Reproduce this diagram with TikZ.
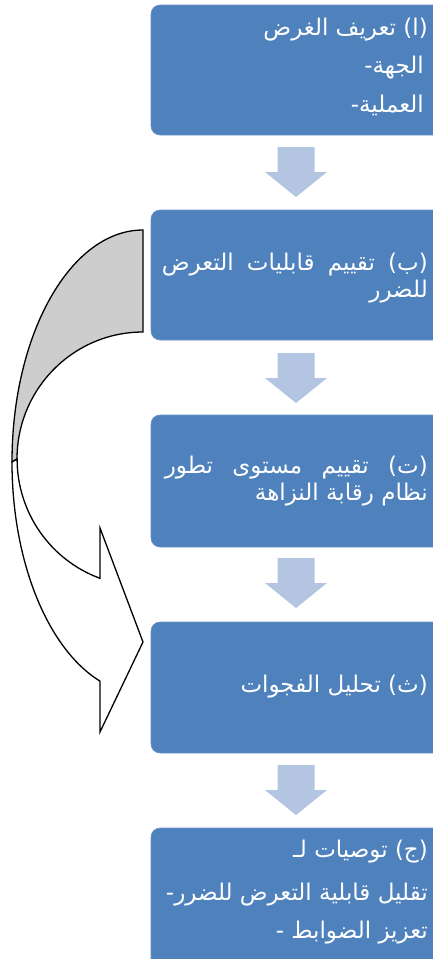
\documentclass[tikz,border=0pt]{standalone}
\usepackage{fontspec}
\TeXXeTstate=1
\newfontfamily\arabicfont[Script=Arabic]{DejaVu Sans}
\definecolor{boxblue}{HTML}{4F81BD}
\definecolor{arrowblue}{RGB}{180,197,225}
\definecolor{backgray}{RGB}{205,205,205}
\tikzset{
  stepbox/.style={rectangle, rounded corners=9pt, fill=boxblue, draw=boxblue!85!white, line width=0.6pt, inner sep=0pt, minimum width=294pt},
  txt/.style={anchor=base east, inner sep=0pt, text=white, font=\arabicfont\fontsize{23}{27}\selectfont},
  downarrow/.style={fill=arrowblue},
  bandline/.style={draw=black, line width=1.3pt, line join=miter}
}
\newcommand\blockdown[1]{%
  \fill[downarrow] (#1) ++(-18.5,0) -- ++(37,0) -- ++(0,25) -- ++(12.5,0)
     -- ++(-31,25) -- ++(-31,-25) -- ++(12.5,0) -- cycle;}
\begin{document}
\begin{tikzpicture}[x=1pt,y=-1pt]
\useasboundingbox (0,0) rectangle (433,959);
% boxes
\node[stepbox, minimum height=130pt] (b1) at (298,70) {};
\node[stepbox, minimum height=130pt] (b2) at (298,275) {};
\node[stepbox, minimum height=132pt] (b3) at (298,481) {};
\node[stepbox, minimum height=131pt] (b4) at (298,687.5) {};
\node[stepbox, minimum height=142pt] (b5) at (298,899) {};
% down arrows
\coordinate (a1) at (296,147);
\coordinate (a2) at (296,353);
\coordinate (a3) at (296,558);
\coordinate (a4) at (296,765);
\blockdown{a1}\blockdown{a2}\blockdown{a3}\blockdown{a4}
% curved arrow: back (gray) part
\path[bandline, fill=backgray] (143,230) arc[start angle=270, end angle=180, x radius=131, y radius=232]
   -- (17,459) arc[start angle=180, end angle=270, x radius=126, y radius=127] -- cycle;
% curved arrow: front (white) part with head
\path[bandline, fill=white] (12,462) arc[start angle=180, end angle=109.2, x radius=131, y radius=232]
   -- (100,732) -- (143,642) -- (100,528) -- (100,578.3)
   arc[start angle=110, end angle=180, x radius=126, y radius=127] -- cycle;
% texts
\node[txt] (t1a) at (428,35) {\beginR\hbox{(ا)} تعريف الغرض\endR};
\node[txt] (t1b) at (424,73) {\beginR\hbox{الجهة}\hbox{-}\endR};
\node[txt] (t1c) at (424,112) {\beginR\hbox{العملية}\hbox{-}\endR};
\node[txt] (t2a) at (428,270) {\hbox to 266pt{\beginR\hbox{(ب)}\hfill تقييم\hfill قابليات\hfill التعرض\endR}};
\node[txt] (t2b) at (428,297) {\beginR للضرر\endR};
\node[txt] (t3a) at (428,473) {\hbox to 263pt{\beginR\hbox{(ت)}\hfill تقييم\hfill مستوى\hfill تطور\endR}};
\node[txt] (t3b) at (428,500) {\beginR نظام رقابة النزاهة\endR};
\node[txt] (t4) at (428,692) {\beginR\hbox{(ث)} تحليل الفجوات\endR};
\node[txt] (t5a) at (428,857) {\beginR\hbox{(ج)} توصيات لـ\endR};
\node[txt] (t5b) at (428,900) {\beginR تقليل قابلية التعرض \hbox{للضرر}\hbox{-}\endR};
\node[txt] (t5c) at (428,938) {\beginR تعزيز الضوابط\ \hbox{-}\endR};
\end{tikzpicture}
\end{document}
